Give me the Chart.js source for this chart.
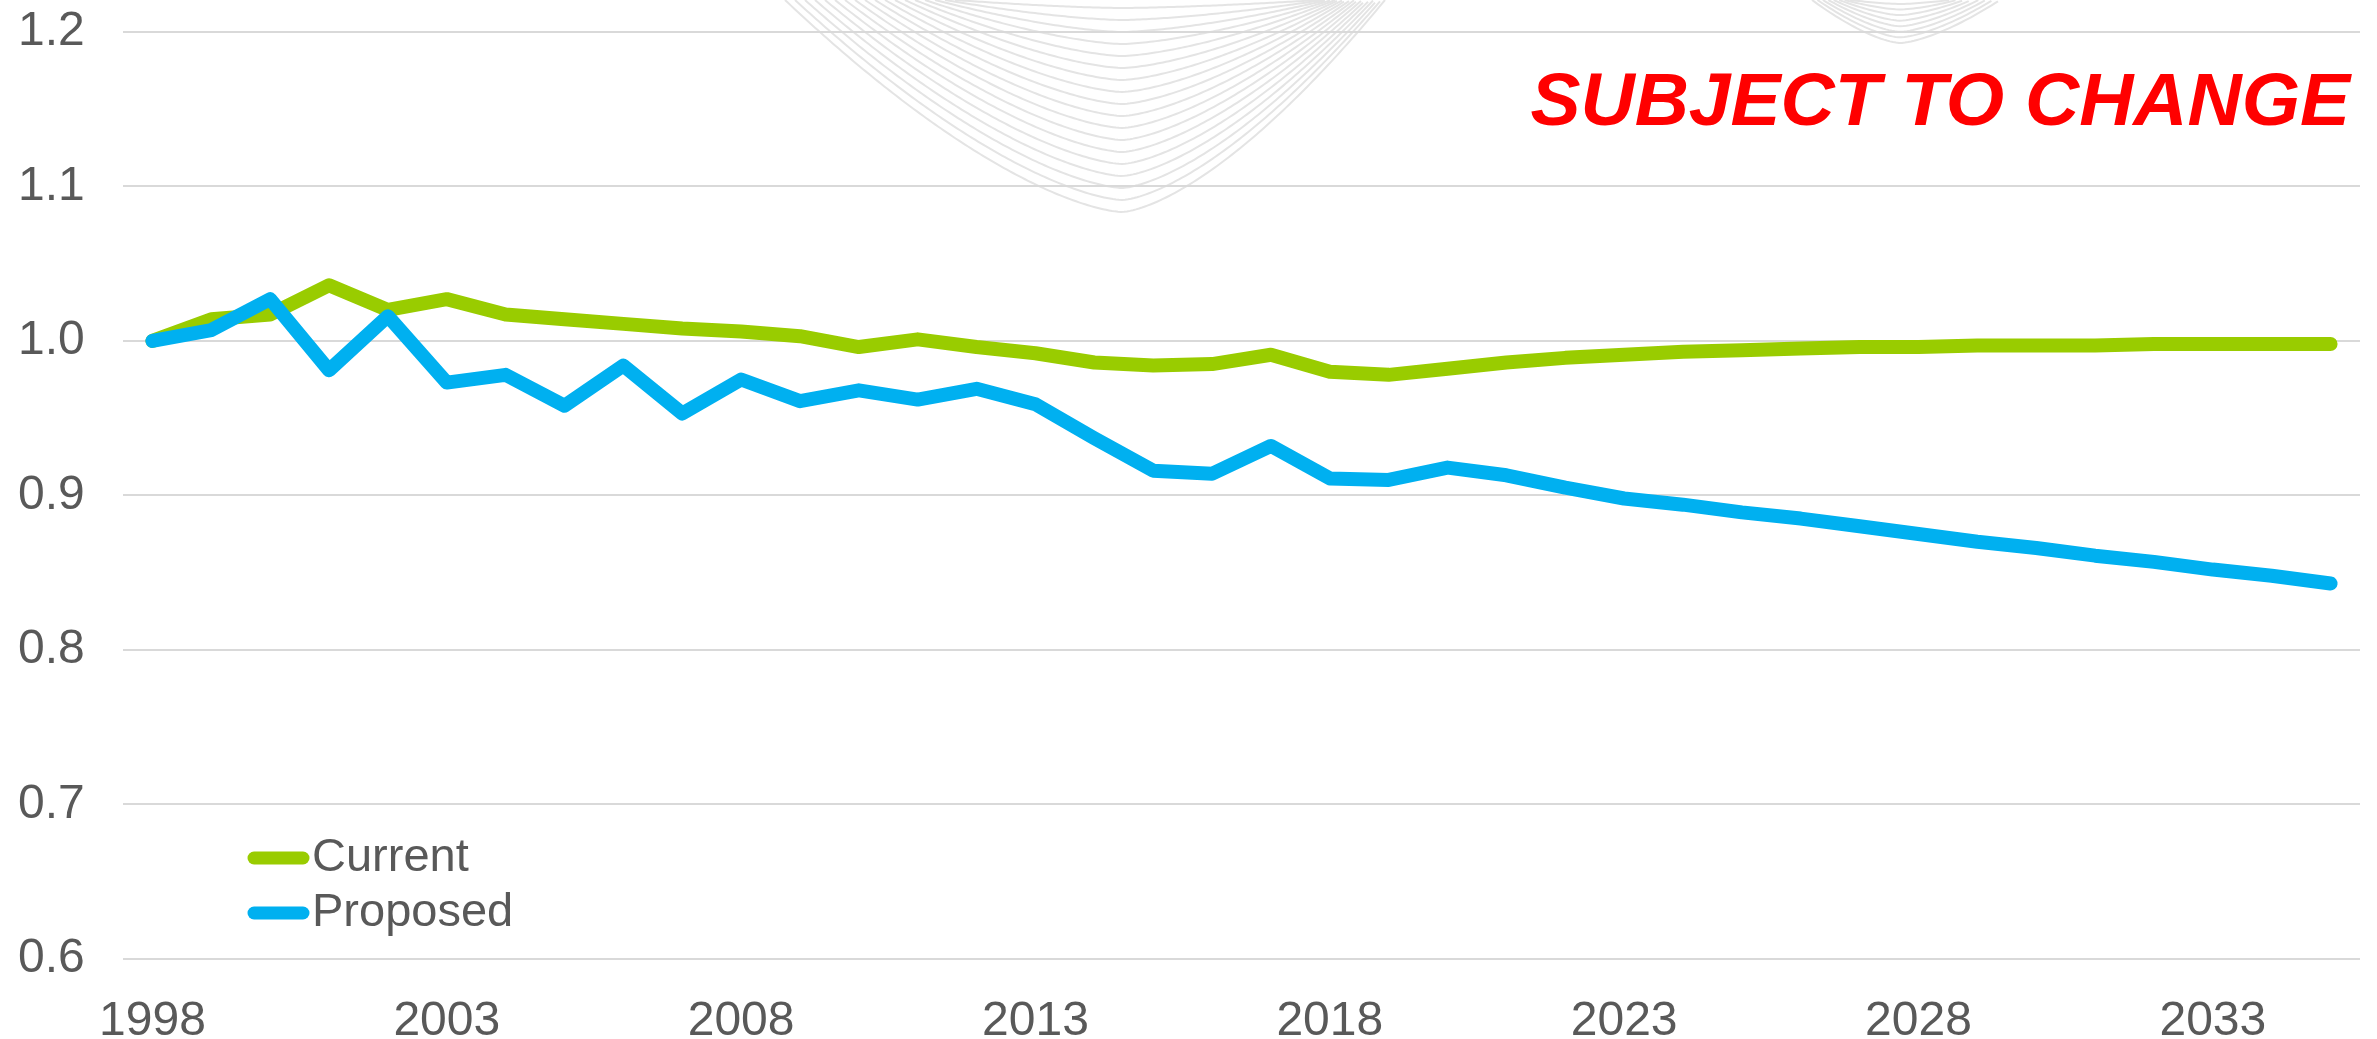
<!DOCTYPE html>
<html>
<head>
<meta charset="utf-8">
<script src="https://cdn.jsdelivr.net/npm/chart.js@4.4.1/dist/chart.umd.min.js"></script>
<style>
  html, body { margin: 0; padding: 0; background: #fff; }
  #wrap { position: relative; width: 2377px; height: 1039px; overflow: hidden; }
  #stamp {
    position: absolute; right: 27px; top: 62px;
    font: italic bold 75px "Liberation Sans", Arial, sans-serif;
    line-height: 1; color: #ff0000; white-space: nowrap;
  }
</style>
</head>
<body>
<div id="wrap">
  <canvas id="chart" width="2377" height="1039"></canvas>
  <div id="stamp">SUBJECT TO CHANGE</div>
</div>
<script>
// categories (years)
const years = [
  '1998', '1999', '2000', '2001', '2002', '2003', '2004', '2005', '2006', '2007',
  '2008', '2009', '2010', '2011', '2012', '2013', '2014', '2015', '2016', '2017',
  '2018', '2019', '2020', '2021', '2022', '2023', '2024', '2025', '2026', '2027',
  '2028', '2029', '2030', '2031', '2032', '2033', '2034', '2035'
];

// series values
const current = [
  1.000, 1.014, 1.017, 1.036, 1.020, 1.027, 1.017, 1.014, 1.011, 1.008,
  1.006, 1.003, 0.996, 1.001, 0.996, 0.992, 0.986, 0.984, 0.985, 0.991,
  0.980, 0.978, 0.982, 0.986, 0.989, 0.991, 0.993, 0.994, 0.995, 0.996,
  0.996, 0.997, 0.997, 0.997, 0.998, 0.998, 0.998, 0.998
];
const proposed = [
  1.000, 1.007, 1.027, 0.981, 1.016, 0.973, 0.978, 0.958, 0.984, 0.953,
  0.975, 0.961, 0.968, 0.962, 0.969, 0.959, 0.937, 0.916, 0.914, 0.932,
  0.911, 0.910, 0.918, 0.913, 0.905, 0.898, 0.894, 0.889, 0.885, 0.880,
  0.875, 0.870, 0.866, 0.861, 0.857, 0.852, 0.848, 0.843
];

// tick labels
const xTickLabels = ['1998', '2003', '2008', '2013', '2018', '2023', '2028', '2033'];
const yTickMin = 0.6;
const yTickMax = 1.2;
const yTickStep = 0.1;

const FONT = '"Liberation Sans", Arial, sans-serif';
const TEXT_COLOR = '#595959';

// light grey curves in the background (decoration only)
const watermark = {
  id: 'watermark',
  beforeDraw(chart) {
    const ctx = chart.ctx;
    ctx.save();
    ctx.strokeStyle = '#e4e4e4';
    ctx.lineWidth = 2;
    const family = (xc, n, d0, d1, l0, l1, r0, r1) => {
      for (let i = 0; i < n; i++) {
        const t = i / (n - 1);
        const depth = d0 + (d1 - d0) * t;
        const xl = l0 + (l1 - l0) * t;
        const xr = r0 + (r1 - r0) * t;
        ctx.beginPath();
        for (let x = xl; x <= xr; x += 3) {
          const u = x < xc ? (xc - x) / (xc - xl) : (x - xc) / (xr - xc);
          const y = depth * (1 - Math.pow(u, 1.5));
          if (x === xl) ctx.moveTo(x, y); else ctx.lineTo(x, y);
        }
        ctx.stroke();
      }
    };
    family(1122, 18, 8, 212, 955, 785, 1320, 1385);
    family(1900, 8, 4, 43, 1850, 1812, 1950, 2000);
    ctx.restore();
  }
};

// legend drawn inside the plot area, bottom left
const insideLegend = {
  id: 'insideLegend',
  afterDatasetsDraw(chart) {
    const ctx = chart.ctx;
    ctx.save();
    ctx.font = '47px ' + FONT;
    ctx.textBaseline = 'middle';
    ctx.textAlign = 'left';
    chart.data.datasets.forEach((ds, i) => {
      const y = 858 + i * 55;
      ctx.strokeStyle = ds.borderColor;
      ctx.lineWidth = 13;
      ctx.lineCap = 'round';
      ctx.beginPath();
      ctx.moveTo(254, y);
      ctx.lineTo(303, y);
      ctx.stroke();
      ctx.fillStyle = TEXT_COLOR;
      ctx.fillText(ds.label, 312, y);
    });
    ctx.restore();
  }
};

new Chart(document.getElementById('chart'), {
  type: 'line',
  data: {
    labels: years,
    datasets: [
      {
        label: 'Current',
        data: current,
        borderColor: '#99cc00',
        borderWidth: 14,
        borderCapStyle: 'round',
        borderJoinStyle: 'round',
        pointRadius: 0,
        tension: 0,
        order: 1
      },
      {
        label: 'Proposed',
        data: proposed,
        borderColor: '#00b0f0',
        borderWidth: 14,
        borderCapStyle: 'round',
        borderJoinStyle: 'round',
        pointRadius: 0,
        tension: 0,
        order: 0
      }
    ]
  },
  options: {
    responsive: false,
    animation: false,
    devicePixelRatio: 1,
    layout: { padding: { left: 18, right: 17, top: 29, bottom: 0 } },
    plugins: {
      legend: { display: false },
      tooltip: { enabled: false }
    },
    scales: {
      x: {
        offset: true,
        grid: { display: false },
        border: { display: false },
        afterFit(scale) { scale.height = 80; },
        ticks: {
          autoSkip: false,
          maxRotation: 0,
          padding: 26,
          color: TEXT_COLOR,
          font: { family: FONT, size: 48 },
          callback(val, idx) {
            return xTickLabels.includes(years[idx]) ? years[idx] : '';
          }
        }
      },
      y: {
        min: yTickMin,
        max: yTickMax,
        border: { display: false },
        grid: { color: '#d9d9d9', lineWidth: 2, drawTicks: false },
        afterFit(scale) { scale.width = 105; },
        ticks: {
          stepSize: yTickStep,
          crossAlign: 'far',
          color: TEXT_COLOR,
          font: { family: FONT, size: 48 },
          callback(v) { return v.toFixed(1); }
        }
      }
    }
  },
  plugins: [watermark, insideLegend]
});
</script>
</body>
</html>
